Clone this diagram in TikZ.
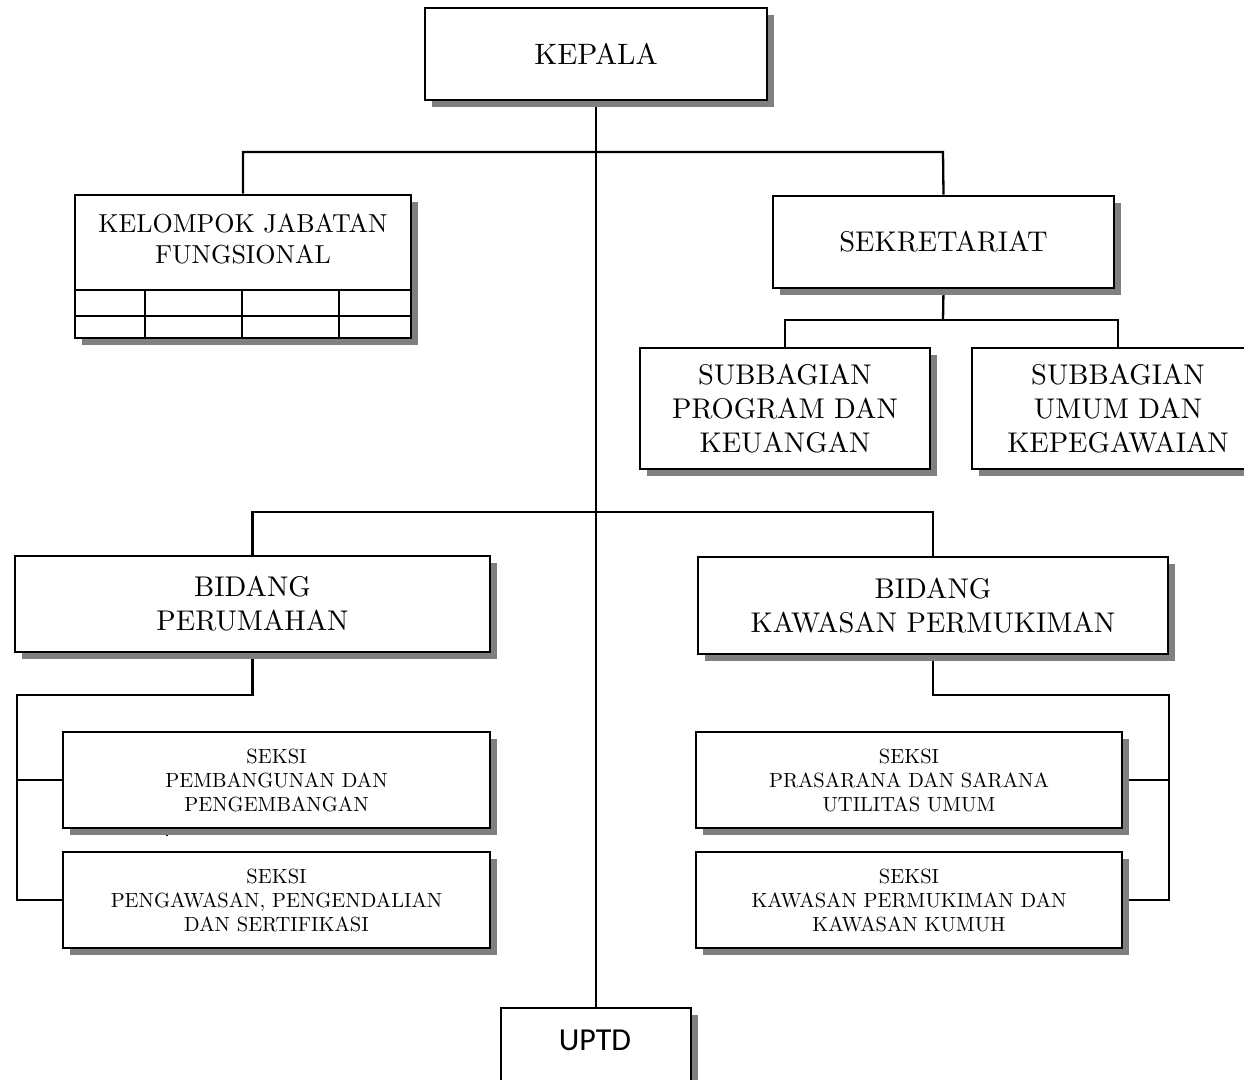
\documentclass[tikz,border=0pt]{standalone}
\usepackage{fontspec}
\setmainfont{lmroman10-regular.otf}
\newfontfamily\uptdfont{Carlito}
\usetikzlibrary{shadows,backgrounds}
\begin{document}
\begin{tikzpicture}[x=1pt,y=-1pt,
  box/.style={draw, line width=2.6pt, fill=white, inner sep=0pt, align=center,
    drop shadow={shadow xshift=7pt, shadow yshift=-7pt, fill=black!50, opacity=1}},
  conn/.style={line width=2.3pt},
  hugef/.style={font=\fontsize{29.5}{34}\selectfont},
  bigf/.style={font=\fontsize{28.5}{34}\selectfont},
  kjff/.style={font=\fontsize{26}{30.5}\selectfont},
  smallf/.style={font=\fontsize{20.5}{24}\selectfont},
  txt/.style={inner sep=0pt, align=center}]
\useasboundingbox (0,0) rectangle (1244,1079);
\clip (0,0) rectangle (1244,1079);

% boxes
\node[box, hugef, minimum width=342pt, minimum height=92pt] (kepala) at (596,54) {KEPALA};
\node[box, minimum width=336pt, minimum height=143pt] (kjf) at (243,266.5) {};
\node[txt, kjff] (kjft) at (243,239) {KELOMPOK JABATAN\\FUNGSIONAL};
\node[box, bigf, minimum width=341pt, minimum height=92pt] (sek) at (943.5,242) {SEKRETARIAT};
\node[box, bigf, minimum width=290pt, minimum height=121pt] (spk) at (785,408.5) {SUBBAGIAN\\PROGRAM DAN\\KEUANGAN};
\node[box, bigf, minimum width=292pt, minimum height=121pt] (suk) at (1118,408.5) {SUBBAGIAN\\UMUM DAN\\KEPEGAWAIAN};
\node[box, bigf, minimum width=475pt, minimum height=96pt] (bp) at (252.5,604) {BIDANG\\PERUMAHAN};
\node[box, bigf, minimum width=470pt, minimum height=97pt] (bkp) at (933,605.5) {BIDANG\\KAWASAN PERMUKIMAN};
\node[box, smallf, minimum width=427pt, minimum height=96pt] (sk1) at (276.5,780) {SEKSI\\PEMBANGUNAN DAN\\PENGEMBANGAN};
\node[box, smallf, minimum width=427pt, minimum height=96pt] (sk2) at (276.5,900) {SEKSI\\PENGAWASAN, PENGENDALIAN\\DAN SERTIFIKASI};
\node[box, smallf, minimum width=426pt, minimum height=96pt] (sk3) at (909,780) {SEKSI\\PRASARANA DAN SARANA\\UTILITAS UMUM};
\node[box, smallf, minimum width=426pt, minimum height=96pt] (sk4) at (909,900) {SEKSI\\KAWASAN PERMUKIMAN DAN\\KAWASAN KUMUH};
\node[box, minimum width=190pt, minimum height=80pt] (uptd) at (596,1048) {};
\node[txt, font=\uptdfont\fontsize{32}{36}\selectfont] (uptdt) at (595,1040) {UPTD};

% table inside KJF
\draw[line width=2.4pt] (kjf.west |- 0,290) -- (kjf.east |- 0,290);
\draw[line width=2.4pt] (kjf.west |- 0,316) -- (kjf.east |- 0,316);
\foreach \xx in {145,242,339}
  \draw[line width=2.4pt] (\xx,290) -- (\xx,338);

% coordinates
\coordinate (lbtop) at (17,695);
\coordinate (lbbot) at (17,900);
\coordinate (rbtop) at (1169,695);
\coordinate (rbbot) at (1169,900);
\coordinate (tk1) at (167,831);
\coordinate (tk2) at (167,836);

\begin{scope}[on background layer]
\draw[conn] (kepala.south) -- (uptd.north);
\draw[conn] (kjf.north) |- (943,152) -- (sek.north);
\draw[conn] (sek.south) -- (943,320);
\draw[conn] (spk.north) |- (suk.north |- 0,320) -- (suk.north);
\draw[conn] (bp.north) |- (bkp.north |- 0,512) -- (bkp.north);
\draw[conn] (bp.south) |- (lbtop) -- (lbbot) -- (sk2.west);
\draw[conn] (sk1.west) -- (sk1.west -| lbtop);
\draw[conn] (bkp.south) |- (rbtop) -- (rbbot) -- (sk4.east);
\draw[conn] (sk3.east) -- (sk3.east -| rbtop);
\draw[line width=1.2pt] (tk1) -- (tk2);
\end{scope}
\end{tikzpicture}
\end{document}
